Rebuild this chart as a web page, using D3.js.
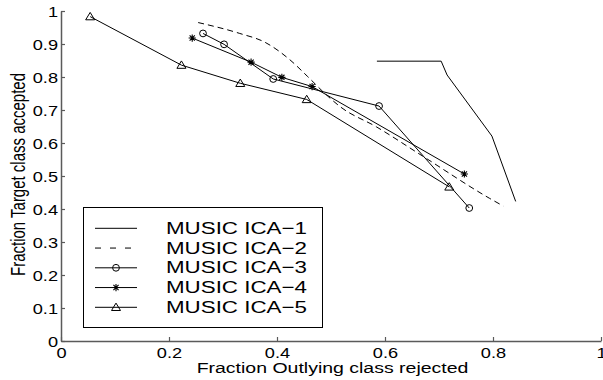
<!DOCTYPE html>
<html>
<head>
<meta charset="utf-8">
<script src="https://d3js.org/d3.v7.min.js"></script>
<style>
  body { margin: 0; background: #fff; }
  svg { display: block; font-family: "Liberation Sans", Arial, sans-serif; }
</style>
</head>
<body>
<svg></svg>
<script>
var width = 603;
var height = 380;
var stretch = 1.3;   // the original figure is wider than it is tall, text looks stretched

// tick values
var xTicks = [0, 0.2, 0.4, 0.6, 0.8, 1];
var yTicks = [0, 0.1, 0.2, 0.3, 0.4, 0.5, 0.6, 0.7, 0.8, 0.9, 1];

// series (x = fraction outlying rejected, y = fraction target accepted)
var names = ["MUSIC ICA\u22121", "MUSIC ICA\u22122", "MUSIC ICA\u22123", "MUSIC ICA\u22124", "MUSIC ICA\u22125"];
var ica1X = [0.585, 0.704, 0.715, 0.798, 0.842];
var ica1Y = [0.848, 0.848, 0.806, 0.621, 0.423];
var ica2X = [0.254, 0.331, 0.378, 0.424, 0.457, 0.492, 0.517, 0.584, 0.670, 0.794, 0.819];
var ica2Y = [0.965, 0.932, 0.905, 0.852, 0.801, 0.745, 0.710, 0.649, 0.560, 0.432, 0.409];
var ica3X = [0.263, 0.302, 0.393, 0.589, 0.756];
var ica3Y = [0.932, 0.899, 0.794, 0.712, 0.403];
var ica4X = [0.243, 0.352, 0.409, 0.465, 0.747];
var ica4Y = [0.918, 0.845, 0.799, 0.771, 0.506];
var ica5X = [0.054, 0.223, 0.332, 0.455, 0.719];
var ica5Y = [0.983, 0.836, 0.781, 0.732, 0.467];

var series = [
    {name: names[0], xs: ica1X, ys: ica1Y, dash: null, marker: null, smooth: false},
    {name: names[1], xs: ica2X, ys: ica2Y, dash: "6,4", marker: null, smooth: true},
    {name: names[2], xs: ica3X, ys: ica3Y, dash: null, marker: "circle", smooth: false},
    {name: names[3], xs: ica4X, ys: ica4Y, dash: null, marker: "star", smooth: false},
    {name: names[4], xs: ica5X, ys: ica5Y, dash: null, marker: "triangle", smooth: false}
];

var x = d3.scaleLinear().domain([0, 1]).range([61, 601]);
var y = d3.scaleLinear().domain([0, 1]).range([341, 11]);

var svg = d3.select("svg")
    .attr("width", width)
    .attr("height", height);

var axisColor = "#5a5a5a";
var fmt = function(d) { return d === 0 || d === 1 ? d3.format("d")(d) : d3.format(".1f")(d); };

// x axis, ticks pointing inward
var gx = svg.append("g")
    .attr("transform", "translate(0,341)")
    .call(d3.axisBottom(x).tickValues(xTicks).tickSize(-4).tickSizeOuter(0).tickFormat(fmt));
gx.select(".domain").attr("stroke", axisColor).attr("stroke-width", 1.5);
gx.selectAll(".tick line").attr("stroke", axisColor).attr("stroke-width", 1.2);
gx.selectAll(".tick text")
    .attr("y", 17).attr("dy", null)
    .attr("fill", "#000")
    .style("font-size", "14px")
    .attr("transform", "scale(" + stretch + ",1)");

// y axis
var gy = svg.append("g")
    .attr("transform", "translate(61,0)")
    .call(d3.axisLeft(y).tickValues(yTicks).tickSize(-4).tickSizeOuter(0).tickFormat(fmt));
gy.select(".domain").attr("stroke", axisColor).attr("stroke-width", 1.5);
gy.selectAll(".tick line").attr("stroke", axisColor).attr("stroke-width", 1.2);
gy.selectAll(".tick text")
    .attr("x", -2.3).attr("dy", null).attr("y", 5)
    .attr("fill", "#000")
    .style("font-size", "14px")
    .attr("transform", "scale(" + stretch + ",1)");

// axis titles
svg.append("text")
    .attr("transform", "translate(332.5,372.5) scale(" + stretch + ",1)")
    .attr("text-anchor", "middle")
    .style("font-size", "15px")
    .text("Fraction Outlying class rejected");

svg.append("text")
    .attr("transform", "translate(25,174.5) rotate(-90) scale(1," + stretch + ")")
    .attr("text-anchor", "middle")
    .style("font-size", "15px")
    .text("Fraction Target class accepted");

// marker drawing
function drawMarker(g, type) {
    if (type === "circle") {
        g.append("circle").attr("r", 3.4)
            .attr("fill", "none").attr("stroke", "#000").attr("stroke-width", 1);
    } else if (type === "star") {
        var r = 3.6, d = r * 0.72;
        g.append("path")
            .attr("d", "M" + (-r) + ",0H" + r + "M0," + (-r) + "V" + r +
                "M" + (-d) + "," + (-d) + "L" + d + "," + d +
                "M" + (-d) + "," + d + "L" + d + "," + (-d))
            .attr("stroke", "#000").attr("stroke-width", 1.1).attr("fill", "none");
    } else if (type === "triangle") {
        g.append("path")
            .attr("d", "M0,-4.2L4.5,3.2L-4.5,3.2Z")
            .attr("fill", "none").attr("stroke", "#000").attr("stroke-width", 1);
    }
}

var line = d3.line()
    .x(function(d) { return x(d[0]); })
    .y(function(d) { return y(d[1]); });

series.forEach(function(s) {
    var pts = s.xs.map(function(v, i) { return [v, s.ys[i]]; });
    svg.append("path")
        .datum(pts)
        .attr("d", line.curve(s.smooth ? d3.curveMonotoneX : d3.curveLinear))
        .attr("fill", "none")
        .attr("stroke", "#000")
        .attr("stroke-width", 1)
        .attr("stroke-dasharray", s.dash);
    if (s.marker) {
        pts.forEach(function(p) {
            var m = svg.append("g").attr("transform", "translate(" + x(p[0]) + "," + y(p[1]) + ")");
            drawMarker(m, s.marker);
        });
    }
});

// legend
var legend = svg.append("g");
legend.append("rect")
    .attr("x", 83.5).attr("y", 207.5)
    .attr("width", 239).attr("height", 120)
    .attr("fill", "#fff").attr("stroke", "#000").attr("stroke-width", 1);

series.forEach(function(s, i) {
    var ry = 228.3 + i * 19.75;
    legend.append("line")
        .attr("x1", 95).attr("x2", 137)
        .attr("y1", ry).attr("y2", ry)
        .attr("stroke", "#000").attr("stroke-width", 1)
        .attr("stroke-dasharray", s.dash ? "6,9" : null);
    if (s.marker) {
        drawMarker(legend.append("g").attr("transform", "translate(116," + ry + ")"), s.marker);
    }
    legend.append("text")
        .attr("transform", "translate(166," + (ry + 5.5) + ") scale(" + stretch + ",1)")
        .style("font-size", "17.2px")
        .text(s.name);
});
</script>
</body>
</html>
